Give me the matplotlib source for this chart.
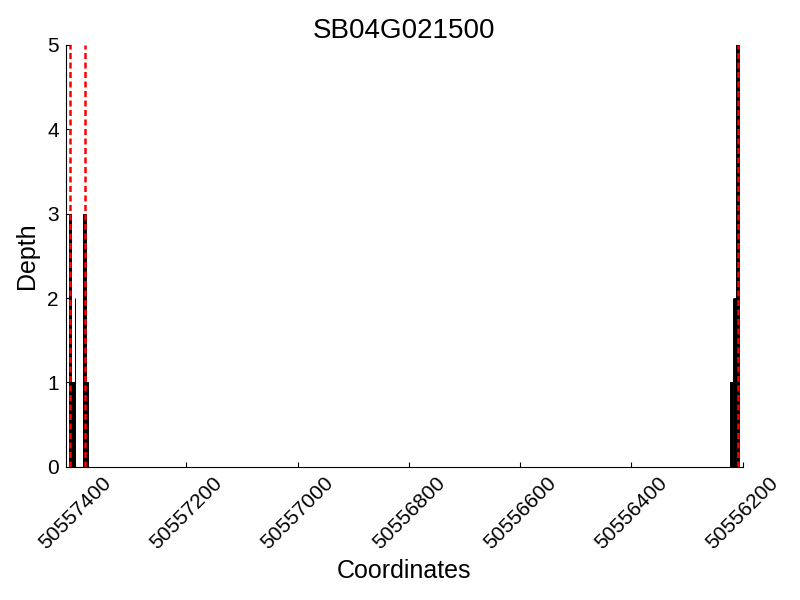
import matplotlib
matplotlib.use('Agg')
import matplotlib.pyplot as plt

plt.rcParams['font.family'] = ['Liberation Sans', 'DejaVu Sans']

# depth per coordinate
positions = [50557410, 50557409, 50557408, 50557407,
             50557406, 50557405, 50557404, 50557403, 50557402, 50557401,
             50557400,
             50557385, 50557384, 50557383, 50557382, 50557381,
             50557380, 50557379, 50557378,
             50556223, 50556222, 50556221, 50556220, 50556219,
             50556217, 50556216, 50556215, 50556214, 50556213,
             50556211, 50556210, 50556209, 50556208, 50556207]
depths = [3, 3, 3, 3,
          1, 1, 1, 1, 1, 1,
          2,
          3, 3, 3, 3, 3,
          1, 1, 1,
          1, 1, 1, 1, 1,
          2, 2, 2, 2, 2,
          8, 8, 8, 8, 8]
# exon boundaries
boundaries = [50557409, 50557383, 50556208]
x_ticks = [50557400, 50557200, 50557000, 50556800, 50556600, 50556400, 50556200]
x_range = (50557417, 50556199)
gene = 'SB04G021500'

fig = plt.figure(figsize=(8, 6), dpi=100)
ax = fig.add_axes([0.082, 0.222, 0.847, 0.703])

ax.bar(positions, depths, width=0.8, color='black', edgecolor='black',
       linewidth=0.7)
for b in boundaries:
    ax.axvline(b, color='red', linewidth=1.8, linestyle=(0, (2.4, 1.4)))

ax.set_xlim(x_range)
ax.set_ylim(0, 5)
ax.set_xticks(x_ticks)
ax.set_xticklabels([str(t) for t in x_ticks], rotation=45, fontsize=15,
                   ha='center')
ax.set_yticks(range(6))
ax.tick_params(axis='both', direction='in', labelsize=15, length=3.5, pad=5)
ax.spines['top'].set_visible(False)
ax.spines['right'].set_visible(False)

ax.set_title(gene, fontsize=20, pad=5)
ax.set_xlabel('Coordinates', fontsize=18)
ax.set_ylabel('Depth', fontsize=18, labelpad=6)

fig.savefig('out.png', dpi=100)
